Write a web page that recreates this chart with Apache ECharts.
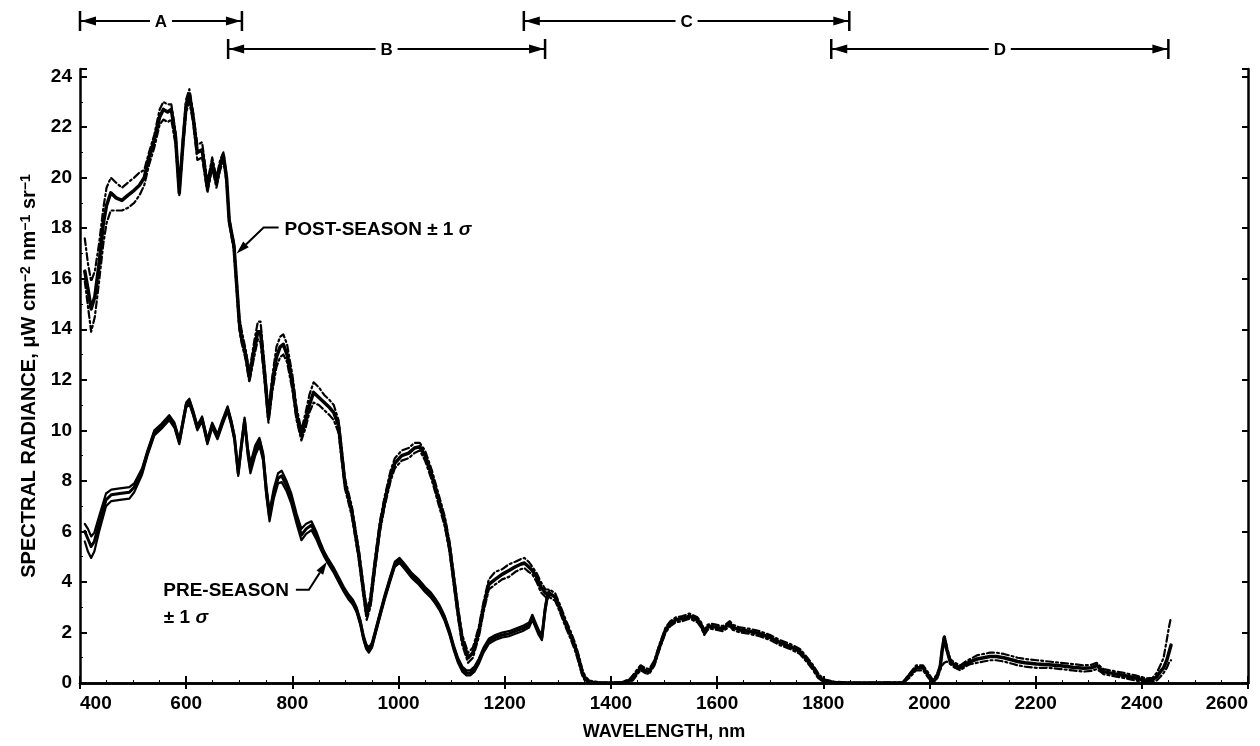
<!DOCTYPE html>
<html><head><meta charset="utf-8">
<script src="https://cdn.jsdelivr.net/npm/echarts@6/dist/echarts.min.js"></script>
<style>html,body{margin:0;padding:0;background:#fff}#c{width:1260px;height:746px}</style>
</head><body><div id="c"></div>
<script>
// ---------- DATA ----------
const postWavelength = [
409,415,421,428,436,444,450,458,468,479,490,502,512,521,530,540,550,557,565,572,
580,587,594,600,606,613,621,630,640,649,657,664,670,676,681,690,700,704,712,719,
728,735,740,747,755,762,770,777,783,790,800,808,817,825,832,840,850,860,870,878,
887,899,912,925,933,940,947,955,965,974,985,993,1006,1019,1030,1040,1050,1063,1075,1087,
1096,1104,1112,1120,1131,1140,1151,1160,1170,1182,1195,1208,1220,1230,1237,1245,1252,1260,1268,1277,
1284,1295,1305,1314,1324,1333,1340,1346,1352,1359,1380,1400,1420,1435,1441,1450,1456,1464,1472,1482,
1491,1503,1512,1522,1535,1548,1563,1570,1576,1582,1588,1600,1611,1618,1624,1630,1643,1660,1680,1700,
1718,1737,1756,1770,1781,1790,1800,1820,1850,1900,1950,1962,1975,1988,1998,2007,2015,2020,2024,2028,
2033,2039,2048,2058,2068,2077,2090,2102,2114,2126,2140,2158,2166,2180,2202,2225,2247,2270,2290,2305,
2315,2322,2328,2345,2366,2388,2409,2420,2428,2435,2441,2447,2451,2455
];
const postMean = [
16.3,15.6,14.8,15.3,16.6,18.2,18.9,19.4,19.2,19.1,19.3,19.5,19.7,20.0,20.8,21.5,22.4,22.7,22.6,22.7,
21.6,19.4,21.4,22.9,23.3,22.4,21.0,21.1,19.6,20.6,19.8,20.5,20.9,20.0,18.3,17.3,14.3,13.7,13.0,12.1,
13.2,13.9,13.9,12.4,10.5,11.8,12.9,13.3,13.4,13.0,11.9,10.6,9.8,10.4,11.0,11.5,11.3,11.1,10.9,10.7,
10.2,7.9,6.8,5.1,3.8,2.7,3.2,4.6,6.2,7.2,8.2,8.7,9.0,9.1,9.3,9.35,9.0,8.2,7.3,6.4,
5.4,4.1,2.8,1.7,1.0,1.2,2.0,3.0,3.9,4.1,4.3,4.45,4.6,4.7,4.75,4.6,4.45,4.2,3.8,3.55,
3.55,3.4,2.9,2.4,1.9,1.4,0.9,0.4,0.15,0.03,0,0,0,0.1,0.2,0.45,0.6,0.5,0.45,0.8,
1.4,2.1,2.35,2.5,2.55,2.65,2.5,2.3,2.0,2.2,2.25,2.2,2.15,2.25,2.35,2.2,2.1,2.05,1.95,1.8,
1.6,1.45,1.25,0.9,0.6,0.3,0.1,0.02,0,0,0,0.3,0.6,0.6,0.3,0.05,0.3,0.6,1.3,1.8,
1.3,0.85,0.7,0.6,0.75,0.85,0.95,1.0,1.05,1.05,1.0,0.9,0.85,0.8,0.75,0.72,0.68,0.62,0.58,0.6,
0.7,0.55,0.45,0.38,0.3,0.2,0.1,0.12,0.25,0.45,0.6,0.9,1.2,1.5
];
const postPlusSigma = [
17.6,16.6,15.9,16.3,17.4,18.8,19.6,20.0,19.8,19.6,19.8,20.0,20.2,20.3,21.0,21.7,22.7,23.0,22.9,22.9,
21.8,19.5,21.6,23.1,23.5,22.6,21.3,21.4,19.8,20.8,20.0,20.7,21.0,20.1,18.4,17.4,14.5,14.0,13.2,12.3,
13.5,14.3,14.3,12.7,10.7,12.1,13.3,13.7,13.8,13.4,12.2,10.9,10.0,10.7,11.4,11.9,11.7,11.4,11.2,11.0,
10.4,8.1,7.0,5.3,4.0,2.9,3.4,4.8,6.4,7.4,8.4,8.9,9.2,9.3,9.5,9.5,9.2,8.4,7.5,6.6,
5.6,4.3,3.0,1.9,1.2,1.4,2.2,3.2,4.1,4.4,4.5,4.7,4.8,4.9,4.95,4.8,4.6,4.35,4.0,3.7,
3.7,3.55,3.05,2.55,2.05,1.55,1.05,0.55,0.25,0.1,0.02,0.02,0.03,0.15,0.3,0.55,0.7,0.6,0.55,0.9,
1.5,2.2,2.45,2.6,2.65,2.75,2.6,2.4,2.1,2.3,2.35,2.3,2.25,2.35,2.45,2.3,2.2,2.15,2.05,1.9,
1.7,1.55,1.35,1.0,0.7,0.4,0.15,0.05,0.02,0.02,0.03,0.35,0.7,0.7,0.4,0.1,0.4,0.7,1.4,1.9,
1.4,0.95,0.8,0.7,0.85,0.95,1.1,1.15,1.2,1.2,1.15,1.05,1.0,0.95,0.9,0.85,0.8,0.75,0.7,0.72,
0.8,0.65,0.55,0.48,0.4,0.3,0.18,0.2,0.4,0.7,1.0,1.7,2.2,2.6
];
const postMinusSigma = [
15.9,14.9,13.9,14.5,15.9,17.4,18.2,18.7,18.7,18.7,18.8,19.0,19.3,19.7,20.5,21.2,22.1,22.3,22.2,22.3,
21.3,19.3,21.2,22.6,23.0,22.2,20.7,20.8,19.4,20.4,19.6,20.3,20.7,19.8,18.2,17.1,14.0,13.5,12.8,11.9,
12.9,13.6,13.5,12.1,10.3,11.5,12.5,12.9,13.0,12.7,11.6,10.4,9.6,10.1,10.7,11.1,11.0,10.8,10.6,10.4,
9.9,7.7,6.6,4.9,3.6,2.5,3.0,4.4,6.0,7.0,8.0,8.5,8.8,8.9,9.1,9.2,8.8,8.0,7.1,6.2,
5.2,3.9,2.6,1.5,0.8,1.0,1.8,2.8,3.7,3.9,4.1,4.2,4.4,4.5,4.55,4.4,4.3,4.0,3.6,3.4,
3.4,3.25,2.75,2.25,1.75,1.25,0.75,0.3,0.05,0,0,0,0,0.05,0.1,0.35,0.5,0.4,0.35,0.7,
1.3,2.0,2.25,2.4,2.45,2.55,2.4,2.2,1.9,2.1,2.15,2.1,2.05,2.15,2.25,2.1,2.0,1.95,1.85,1.7,
1.5,1.35,1.15,0.8,0.5,0.2,0.05,0,0,0,0,0.2,0.5,0.5,0.2,0,0.2,0.5,0.7,0.8,
0.85,0.75,0.6,0.5,0.65,0.75,0.8,0.85,0.9,0.9,0.85,0.75,0.7,0.65,0.6,0.6,0.55,0.5,0.45,0.48,
0.55,0.45,0.35,0.28,0.2,0.1,0.02,0.05,0.1,0.25,0.4,0.6,0.8,0.9
];

const preWavelength = [
409,415,421,427,436,449,459,475,493,502,517,527,540,553,568,578,587,600,606,613,
621,630,640,649,659,668,678,685,691,698,704,710,716,721,730,738,745,751,757,765,
773,780,789,798,808,817,826,836,845,852,860,868,877,887,897,906,914,921,928,934,
939,944,950,955,965,974,984,993,1002,1012,1025,1038,1050,1060,1069,1078,1087,1096,1104,1112,
1120,1128,1135,1143,1151,1160,1170,1182,1195,1208,1220,1233,1246,1252,1257,1264,1270,1276,1280,1284
];
const preMean = [
6.0,5.7,5.4,5.6,6.3,7.25,7.45,7.5,7.55,7.75,8.4,9.1,9.9,10.15,10.5,10.2,9.55,11.0,11.15,10.7,
10.1,10.45,9.55,10.2,9.75,10.3,10.85,10.3,9.7,8.3,9.4,10.4,9.2,8.5,9.2,9.6,8.95,7.6,6.6,7.5,
8.1,8.2,7.8,7.3,6.5,5.85,6.1,6.25,5.85,5.5,5.1,4.8,4.5,4.1,3.7,3.4,3.2,2.9,2.4,1.8,
1.45,1.3,1.5,1.9,2.7,3.4,4.1,4.7,4.85,4.6,4.25,4.0,3.7,3.5,3.25,2.95,2.55,2.0,1.4,0.9,
0.55,0.4,0.4,0.55,0.85,1.3,1.65,1.8,1.9,1.95,2.05,2.15,2.3,2.6,2.35,2.0,1.8,2.9,3.4,3.55
];
const prePlusSigma = [
6.3,6.1,5.8,5.95,6.6,7.5,7.65,7.7,7.75,7.9,8.5,9.2,10.0,10.25,10.6,10.3,9.65,11.1,11.25,10.8,
10.2,10.55,9.65,10.3,9.85,10.4,10.95,10.4,9.8,8.4,9.5,10.5,9.3,8.7,9.4,9.7,9.1,7.8,6.8,7.7,
8.3,8.4,8.0,7.5,6.7,6.1,6.3,6.4,6.0,5.6,5.2,4.9,4.6,4.2,3.8,3.5,3.3,3.0,2.5,1.9,
1.55,1.4,1.6,2.0,2.8,3.5,4.2,4.8,4.95,4.7,4.35,4.1,3.8,3.6,3.35,3.05,2.65,2.1,1.5,1.0,
0.65,0.5,0.5,0.65,0.95,1.4,1.75,1.9,2.0,2.05,2.15,2.25,2.4,2.7,2.45,2.1,1.9,3.0,3.5,3.65
];
const preMinusSigma = [
5.6,5.2,4.95,5.2,6.0,7.0,7.2,7.25,7.3,7.55,8.25,9.0,9.8,10.05,10.4,10.1,9.45,10.9,11.05,10.6,
10.0,10.35,9.45,10.1,9.65,10.2,10.75,10.2,9.6,8.2,9.3,10.3,9.0,8.3,9.0,9.4,8.8,7.4,6.4,7.3,
7.9,7.95,7.6,7.1,6.3,5.65,5.9,6.05,5.7,5.35,5.0,4.7,4.4,4.0,3.6,3.3,3.1,2.8,2.3,1.7,
1.35,1.2,1.4,1.8,2.6,3.3,4.0,4.6,4.75,4.5,4.15,3.9,3.6,3.4,3.15,2.85,2.45,1.9,1.3,0.8,
0.45,0.3,0.3,0.45,0.75,1.2,1.55,1.7,1.8,1.85,1.95,2.05,2.2,2.5,2.25,1.9,1.7,2.8,3.3,3.45
];

const xTickLabels = [400,600,800,1000,1200,1400,1600,1800,2000,2200,2400,2600];
const yTickLabels = [0,2,4,6,8,10,12,14,16,18,20,22,24];

const bandNames = ['A','B','C','D'];
const bandStart = [400, 679, 1236, 1815];
const bandEnd   = [705, 1276, 1849, 2450];
const bandRow   = [0, 1, 0, 1];

const annotationText = ['POST-SEASON ± 1 {it|σ}', 'PRE-SEASON'];
const annotationSubText = ['', '± 1 {it|σ}'];
const annotationTipWavelength = [695, 865];
const annotationTipRadiance = [17.0, 4.8];

const xTitle = 'WAVELENGTH, nm';
const yTitle = 'SPECTRAL RADIANCE, μW cm{sup|−2} nm{sup|−1} sr{sup|−1}';

// ---------- CHART ----------
const FONT = '"Liberation Sans", Arial, Helvetica, sans-serif';
const pairs = (xs, ys) => xs.map((x, i) => [x, ys[i]]);
const chart = echarts.init(document.getElementById('c'), null, {renderer: 'canvas'});

const lineSeries = (name, xs, ys, width, type) => ({
  name, type: 'line', data: pairs(xs, ys), showSymbol: false, symbol: 'none',
  silent: true, animation: false, z: 3,
  lineStyle: {color: '#000', width: width, type: type, join: 'round', cap: 'round'}
});
const dashDot = [7, 3, 2, 3];

const axisFont = {fontFamily: FONT, fontWeight: 'bold', fontSize: 19, color: '#000'};

chart.setOption({
  backgroundColor: '#fff',
  animation: false,
  grid: {left: 80, right: 12, top: 69, bottom: 63, containLabel: false},
  xAxis: [{
    type: 'value', position: 'bottom', min: 400, max: 2600, interval: 200,
    axisLine: {show: true, lineStyle: {color: '#000', width: 2.5}},
    axisTick: {show: true, inside: true, length: 7, lineStyle: {color: '#000', width: 2}},
    minorTick: {show: true, splitNumber: 4, length: 3, lineStyle: {color: '#000', width: 1}},
    splitLine: {show: false},
    axisLabel: Object.assign({margin: 11, alignMinLabel: 'left', alignMaxLabel: 'right',
      formatter: v => xTickLabels.includes(v) ? String(v) : ''}, axisFont),
    name: xTitle, nameLocation: 'middle', nameGap: 40,
    nameTextStyle: {fontFamily: FONT, fontWeight: 'bold', fontSize: 18, color: '#000'}
  }, {
    type: 'value', position: 'top', min: 400, max: 2600, interval: 200,
    axisLine: {show: true, lineStyle: {color: '#000', width: 2.5}},
    axisTick: {show: true, inside: true, length: 6, lineStyle: {color: '#000', width: 2}},
    axisLabel: {show: false}, splitLine: {show: false}
  }],
  yAxis: [{
    type: 'value', position: 'left', min: 0, max: 24.3, interval: 2,
    axisLine: {show: true, lineStyle: {color: '#000', width: 2.5}},
    axisTick: {show: true, inside: true, length: 7, lineStyle: {color: '#000', width: 2}},
    minorTick: {show: true, splitNumber: 2, length: 3, lineStyle: {color: '#000', width: 1}},
    splitLine: {show: false},
    axisLabel: Object.assign({margin: 8, showMaxLabel: false,
      formatter: v => yTickLabels.includes(v) ? String(v) : ''}, axisFont)
  }, {
    type: 'value', position: 'right', min: 0, max: 24.3, interval: 2,
    axisLine: {show: true, lineStyle: {color: '#000', width: 2.5}},
    axisTick: {show: true, inside: true, length: 6, lineStyle: {color: '#000', width: 2}},
    axisLabel: {show: false}, splitLine: {show: false}
  }],
  graphic: [{
    type: 'text', x: 29, y: 376, rotation: Math.PI / 2, silent: true,
    style: {
      text: yTitle, fill: '#000', align: 'center', verticalAlign: 'middle',
      fontFamily: FONT, fontWeight: 'bold', fontSize: 20,
      rich: {
        sup: {fontFamily: FONT, fontWeight: 'bold', fontSize: 14, fill: '#000',
              verticalAlign: 'top', lineHeight: 14}
      }
    }
  }],
  series: [
    lineSeries('post+', postWavelength, postPlusSigma, 2.2, dashDot),
    lineSeries('post-', postWavelength, postMinusSigma, 2.2, dashDot),
    lineSeries('post', postWavelength, postMean, 3.5, 'solid'),
    lineSeries('pre+', preWavelength, prePlusSigma, 2.2, 'solid'),
    lineSeries('pre-', preWavelength, preMinusSigma, 2.2, 'solid'),
    lineSeries('pre', preWavelength, preMean, 3, 'solid'),
    {
      type: 'custom', name: 'bands', silent: true, clip: false, z: 10,
      data: bandStart.map((s, i) => [s, bandEnd[i], 0]),
      encode: {x: [0, 1], y: 2},
      renderItem: function (params, api) {
        const i = params.dataIndex;
        const x1 = api.coord([api.value(0), 0])[0];
        const x2 = api.coord([api.value(1), 0])[0];
        const top = params.coordSys.y;
        const y = top - (bandRow[i] === 0 ? 48 : 20);
        const xm = (x1 + x2) / 2, gap = 11, cap = 10, al = 16, aw = 4.5;
        const ls = {stroke: '#000', lineWidth: 2};
        return {type: 'group', children: [
          {type: 'line', shape: {x1: x1, y1: y, x2: xm - gap, y2: y}, style: ls},
          {type: 'line', shape: {x1: xm + gap, y1: y, x2: x2, y2: y}, style: ls},
          {type: 'line', shape: {x1: x1, y1: y - cap, x2: x1, y2: y + cap}, style: {stroke: '#000', lineWidth: 2.5}},
          {type: 'line', shape: {x1: x2, y1: y - cap, x2: x2, y2: y + cap}, style: {stroke: '#000', lineWidth: 2.5}},
          {type: 'polygon', shape: {points: [[x1 + 1, y], [x1 + al, y - aw], [x1 + al, y + aw]]}, style: {fill: '#000'}},
          {type: 'polygon', shape: {points: [[x2 - 1, y], [x2 - al, y - aw], [x2 - al, y + aw]]}, style: {fill: '#000'}},
          {type: 'text', x: xm, y: y + 1, style: {text: bandNames[i], fill: '#000', align: 'center',
            verticalAlign: 'middle', fontFamily: FONT, fontWeight: 'bold', fontSize: 17}}
        ]};
      }
    },
    {
      type: 'custom', name: 'annotations', silent: true, clip: false, z: 10,
      data: annotationTipWavelength.map((w, i) => [w, annotationTipRadiance[i]]),
      encode: {x: 0, y: 1},
      renderItem: function (params, api) {
        const i = params.dataIndex;
        const tip = api.coord([api.value(0), api.value(1)]);
        const tx = tip[0], ty = tip[1];
        const rich = {it: {fontStyle: 'italic', fontFamily: FONT, fontWeight: 'bold', fontSize: 19, fill: '#000'}};
        const ts = {fill: '#000', fontFamily: FONT, fontWeight: 'bold', fontSize: 19, rich: rich};
        let elbow, end, children = [];
        if (i === 0) {
          elbow = [tx + 27, ty - 26]; end = [tx + 42, ty - 26];
          children.push({type: 'text', x: tx + 48, y: ty - 24,
            style: Object.assign({text: annotationText[i], align: 'left', verticalAlign: 'middle'}, ts)});
        } else {
          elbow = [tx - 18, ty + 28]; end = [tx - 31, ty + 28];
          children.push({type: 'text', x: tx - 38, y: ty + 29,
            style: Object.assign({text: annotationText[i], align: 'right', verticalAlign: 'middle'}, ts)});
          children.push({type: 'text', x: tx - 163, y: ty + 56,
            style: Object.assign({text: annotationSubText[i], align: 'left', verticalAlign: 'middle'}, ts)});
        }
        const dx = tx - elbow[0], dy = ty - elbow[1];
        const len = Math.sqrt(dx * dx + dy * dy), ux = dx / len, uy = dy / len;
        const nx = -uy, ny = ux, al = 13, aw = 4;
        const bx = tx - ux * al, by = ty - uy * al;
        children.push({type: 'polyline', shape: {points: [end, elbow, [bx, by]]},
          style: {stroke: '#000', lineWidth: 2, fill: null}});
        children.push({type: 'polygon', shape: {points: [[tx, ty], [bx + nx * aw, by + ny * aw], [bx - nx * aw, by - ny * aw]]},
          style: {fill: '#000'}});
        return {type: 'group', children: children};
      }
    }
  ]
});
</script>
</body></html>
